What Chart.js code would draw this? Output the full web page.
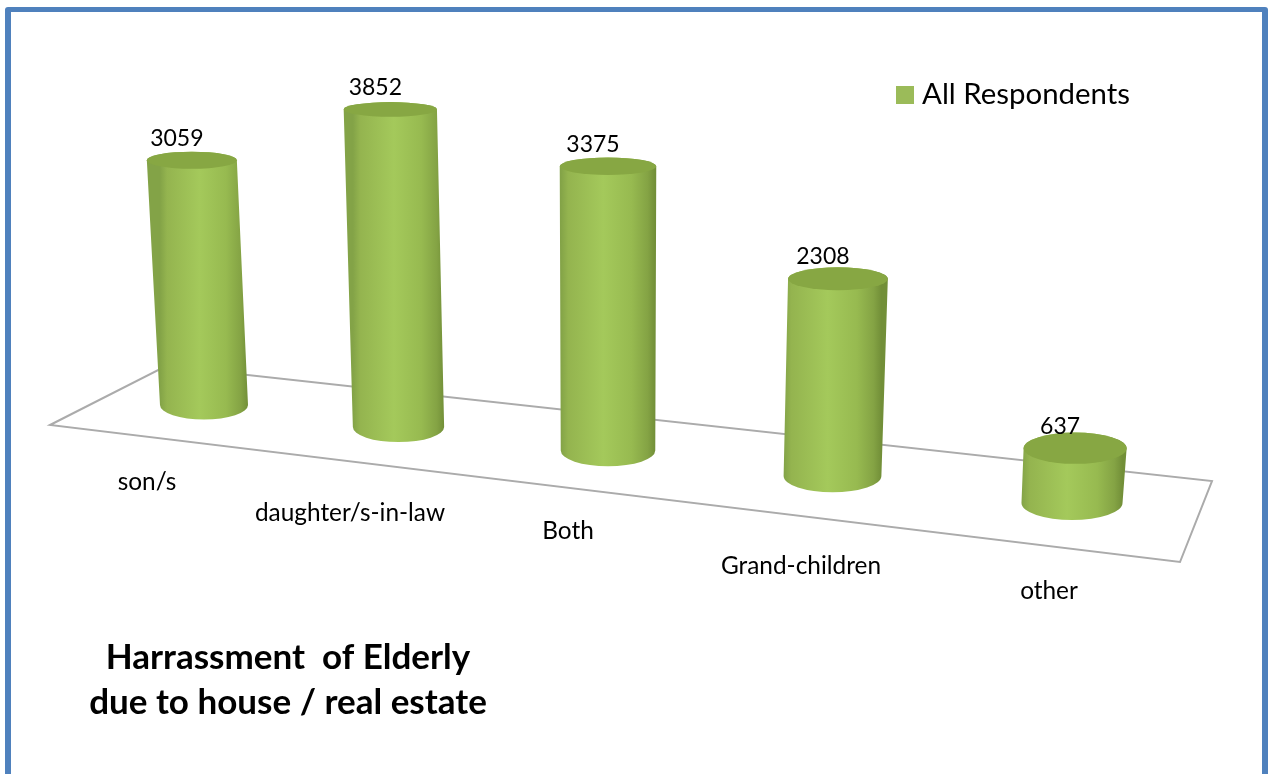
<!DOCTYPE html>
<html>
<head>
<meta charset="utf-8">
<title>Harrassment of Elderly</title>
<script src="https://cdn.jsdelivr.net/npm/chart.js"></script>
<style>
html, body { margin: 0; padding: 0; background: #fff; overflow: hidden; }
#frame {
    position: absolute; left: 5px; top: 7px; width: 1251px; height: 800px;
    border: 6px solid #4f81bd; border-top-width: 5px; border-radius: 3px;
}
#chart { position: absolute; left: 0; top: 0; }
</style>
</head>
<body>
<div id="frame"></div>
<canvas id="chart" width="1271" height="774"></canvas>
<script>
const categories = ["son/s", "daughter/s-in-law", "Both", "Grand-children", "other"];
const respondents = [3059, 3852, 3375, 2308, 637];
const seriesName = "All Respondents";
const titleLines = ["Harrassment  of Elderly", "due to house / real estate"];
const axisMax = 4000;

// how far each category label hangs below its cylinder
const labelDrop = [77, 86, 81, 90, 88];
const floorCorners = [[50, 425], [166, 366], [1212, 481], [1180, 562]];

const fontName = "Lato, Carlito, sans-serif";
const seriesColor = "#9bbb59";

// fake 3D: maps a flat bar to its place on the tilted floor
function project(chart, bar) {
    const area = chart.chartArea;
    const t = ((bar.x - area.left) / area.width - 0.1) / 0.8;
    const baseX = 204 + 748 * t + 120 * t * t;
    const baseY = 405 + 0.1129 * (baseX - 204);
    const h = (bar.base - bar.y) / area.height * (320 + 44 * t - 20 * t * t);
    const lean = (baseX - 608) * h * 1.23e-4;
    const w = bar.width * (1 + 0.148 * t);
    return { t, baseX, baseY, topX: baseX + lean, topY: baseY - h, w };
}

function ellipseRy(y) {
    return 8.6 + (y - 162) * 0.0245;
}

function sideGradient(ctx, x0, x1) {
    const g = ctx.createLinearGradient(x0, 0, x1, 0);
    g.addColorStop(0, "#83a347");
    g.addColorStop(0.08, "#94b44f");
    g.addColorStop(0.45, "#a4c95b");
    g.addColorStop(0.75, "#97ba50");
    g.addColorStop(0.92, "#84a344");
    g.addColorStop(1, "#728f38");
    return g;
}

function drawCylinder(ctx, p) {
    const topRx = p.w / 2 + 1;
    const baseRx = p.w / 2;
    const topRy = ellipseRy(p.topY);
    const baseRy = ellipseRy(p.baseY);

    ctx.beginPath();
    ctx.moveTo(p.topX - topRx, p.topY);
    ctx.lineTo(p.baseX - baseRx, p.baseY);
    ctx.ellipse(p.baseX, p.baseY, baseRx, baseRy, 0, Math.PI, 0, true);
    ctx.lineTo(p.topX + topRx, p.topY);
    ctx.ellipse(p.topX, p.topY, topRx, topRy, 0, 0, Math.PI, true);
    ctx.closePath();
    ctx.fillStyle = sideGradient(ctx, p.baseX - baseRx, p.baseX + baseRx);
    ctx.fill();

    ctx.beginPath();
    ctx.ellipse(p.topX, p.topY, topRx, topRy, 0, 0, Math.PI * 2);
    ctx.fillStyle = "#87a743";
    ctx.fill();
}

class CylinderController extends Chart.BarController {
    draw() {
        const chart = this.chart;
        const ctx = chart.ctx;
        this.getMeta().data.forEach((bar, i) => {
            const p = project(chart, bar);
            ctx.save();
            drawCylinder(ctx, p);
            ctx.fillStyle = "#000";
            ctx.font = "23px " + fontName;
            ctx.textAlign = "center";
            ctx.textBaseline = "middle";
            ctx.fillText(String(respondents[i]), p.topX - 15, p.topY - 22);
            ctx.restore();
        });
    }
}
CylinderController.id = "cylinder";
CylinderController.defaults = Chart.BarController.defaults;
CylinderController.overrides = Chart.BarController.overrides;
Chart.register(CylinderController);

const floorAndLabels = {
    id: "floorAndLabels",
    beforeDraw(chart) {
        // the title sits bottom left, not across the whole canvas
        const block = chart.titleBlock;
        block.left = 88;
        block.right = 488;
        block.top = 635;
    },
    beforeDatasetsDraw(chart) {
        const ctx = chart.ctx;
        ctx.save();
        ctx.beginPath();
        floorCorners.forEach((c, i) => i ? ctx.lineTo(c[0], c[1]) : ctx.moveTo(c[0], c[1]));
        ctx.closePath();
        ctx.strokeStyle = "#ababab";
        ctx.lineWidth = 2;
        ctx.stroke();

        ctx.fillStyle = "#000";
        ctx.font = "24.4px " + fontName;
        ctx.textAlign = "center";
        ctx.textBaseline = "middle";
        chart.getDatasetMeta(0).data.forEach((bar, i) => {
            const p = project(chart, bar);
            ctx.fillText(categories[i], p.baseX - 57 + 34 * p.t, p.baseY + labelDrop[i]);
        });
        ctx.restore();
    }
};

// legend swatch as a point style, so the gap to the text can be narrower than the default
const swatch = document.createElement("canvas");
swatch.width = 18;
swatch.height = 18;
const swatchCtx = swatch.getContext("2d");
swatchCtx.fillStyle = seriesColor;
swatchCtx.fillRect(0, 0, 18, 18);

new Chart(document.getElementById("chart").getContext("2d"), {
    type: "cylinder",
    data: {
        labels: categories,
        datasets: [{
            label: seriesName,
            data: respondents,
            backgroundColor: seriesColor,
            borderWidth: 0,
            clip: false,
            categoryPercentage: 1,
            barPercentage: 0.386
        }]
    },
    options: {
        responsive: false,
        animation: false,
        layout: { padding: { left: 0, right: 131, top: 70, bottom: 0 } },
        scales: {
            x: { display: false },
            y: { display: false, min: 0, max: axisMax }
        },
        plugins: {
            tooltip: { enabled: false },
            legend: {
                position: "top",
                align: "end",
                labels: {
                    color: "#000",
                    usePointStyle: true,
                    pointStyle: swatch,
                    pointStyleWidth: 4,
                    font: { family: fontName, size: 29.4 }
                }
            },
            title: {
                display: true,
                position: "bottom",
                align: "center",
                text: titleLines,
                color: "#000",
                padding: 0,
                font: { family: fontName, size: 35, weight: "bold", lineHeight: 1.286 }
            }
        }
    },
    plugins: [floorAndLabels]
});
</script>
</body>
</html>
